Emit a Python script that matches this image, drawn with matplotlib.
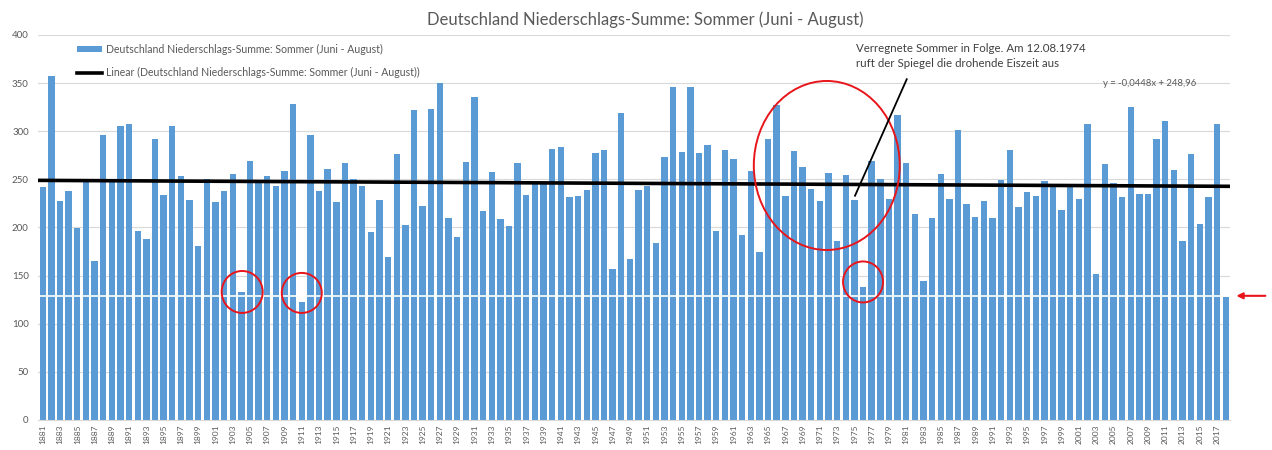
import numpy as np
import matplotlib
matplotlib.use("Agg")
import matplotlib.pyplot as plt
from matplotlib.patches import Ellipse

# Sommer-Niederschlag Deutschland (mm), 1881 - 2018
years = np.arange(1881, 2019)
rain = [
    242, 357, 227, 238, 199, 247, 165, 296, 248, 305,  # 1881-1890
    308, 196, 188, 292, 234, 305, 253, 229, 181, 250,  # 1891-1900
    226, 238, 256, 133, 269, 246, 253, 243, 259, 328,  # 1901-1910
    123, 296, 238, 261, 226, 267, 250, 243, 195, 229,  # 1911-1920
    169, 276, 203, 322, 222, 323, 350, 210, 190, 268,  # 1921-1930
    336, 217, 258, 209, 202, 267, 234, 245, 245, 282,  # 1931-1940
    284, 232, 233, 239, 277, 281, 157, 319, 167, 239,  # 1941-1950
    243, 184, 273, 346, 278, 346, 277, 286, 196, 281,  # 1951-1960
    271, 192, 259, 175, 292, 327, 233, 279, 263, 240,  # 1961-1970
    228, 257, 186, 254, 229, 138, 269, 250, 230, 317,  # 1971-1980
    267, 214, 144, 210, 256, 230, 301, 224, 211, 228,  # 1981-1990
    210, 249, 281, 221, 237, 233, 248, 244, 218, 242,  # 1991-2000
    230, 307, 152, 266, 246, 232, 325, 235, 235, 292,  # 2001-2010
    311, 260, 186, 276, 204, 232, 307, 128,            # 2011-2018
]
tick_years = years[::2]

# Trendlinie aus Excel (x = laufende Nummer)
slope = -0.0448
intercept = 248.96
marker_level = 129

series_name = "Deutschland Niederschlags-Summe: Sommer (Juni - August)"
note = "Verregnete Sommer in Folge. Am 12.08.1974\nruft der Spiegel die drohende Eiszeit aus"


def main():
    plt.rcParams["font.family"] = ["Lato", "DejaVu Sans"]
    grey = "#595959"

    fig = plt.figure(figsize=(12.72, 4.5), dpi=100)
    ax = fig.add_axes([0.0302, 0.0667, 0.9368, 0.8556])

    bars = ax.bar(years, rain, width=0.74, color="#5B9BD5", zorder=2)

    # lineare Trendlinie
    tx = np.array([0.5, len(years) + 0.5])
    trend, = ax.plot(tx + years[0] - 1, slope * tx + intercept, color="black", lw=2.6, zorder=3)

    # weisse Linie auf Hoehe von 2018
    ax.axhline(marker_level, color="white", lw=1.2, zorder=4)

    ax.set_xlim(years[0] - 0.5, years[-1] + 0.5)
    ax.set_ylim(0, 400)
    ax.set_yticks(np.arange(0, 401, 50))
    ax.set_xticks(tick_years)
    ax.set_xticklabels([str(y) for y in tick_years], rotation=90, fontsize=6, color=grey)
    ax.tick_params(axis="both", length=0)
    ax.tick_params(axis="y", labelsize=7, labelcolor=grey, pad=7)
    ax.tick_params(axis="x", pad=3)
    ax.grid(axis="y", color="#D9D9D9", lw=0.8, zorder=0)
    for s in ["top", "right", "left"]:
        ax.spines[s].set_visible(False)
    ax.spines["bottom"].set_color("#D9D9D9")

    fig.text(0.507, 0.956, series_name, ha="center", va="center", fontsize=12, color=grey)

    ax.legend([bars, trend], [series_name, "Linear (" + series_name + ")"],
              loc="upper left", bbox_to_anchor=(0.028, 0.99), frameon=False,
              fontsize=7.6, labelcolor=grey, handlelength=2.4, handleheight=0.5,
              handletextpad=0.3, labelspacing=1.15, borderpad=0)

    # rote Kreise
    red = "#E8151B"
    for (cx, cy, w, h) in [(1904.1, 133, 4.75, 43.6), (1911.0, 132, 4.63, 41.6),
                           (1976.0, 143.4, 4.63, 42.6), (1971.8, 264.4, 16.9, 175.6)]:
        ax.add_patch(Ellipse((cx, cy), w, h, fill=False, edgecolor=red, lw=1.4, zorder=5))

    ax.plot([1975.07, 1981.06], [233, 354], color="black", lw=1.3, zorder=6)
    ax.text(1975.2, 392, note, ha="left", va="top", fontsize=8.3, color="#404040",
            linespacing=1.5, zorder=6)
    ax.text(2009.2, 350, "y = -0,0448x + 248,96", ha="center", va="center",
            fontsize=6.8, color=grey, zorder=6)

    # roter Pfeil rechts
    ax.annotate("", xy=(1.003, marker_level), xytext=(1.032, marker_level),
                xycoords=ax.get_yaxis_transform(), textcoords=ax.get_yaxis_transform(),
                arrowprops=dict(arrowstyle="-|>", color=red, lw=1.5, mutation_scale=9))

    plt.savefig("out.png", dpi=100)


if __name__ == "__main__":
    main()
